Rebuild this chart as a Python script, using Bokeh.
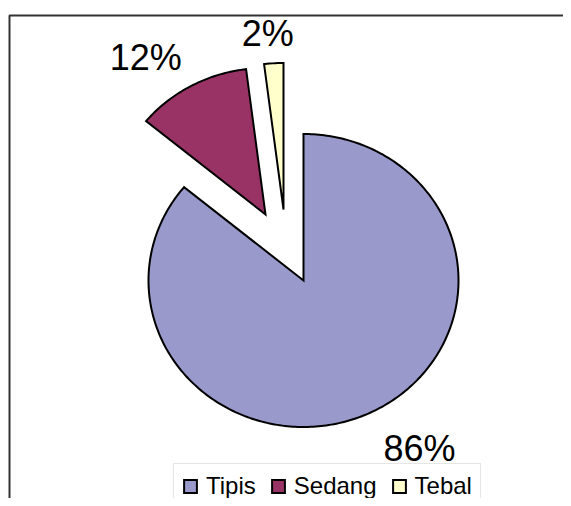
import numpy as np
from bokeh.plotting import figure
from bokeh.models import Range1d, BoxAnnotation, Legend, LegendItem, ColumnDataSource
from bokeh.embed import file_html
from bokeh.resources import INLINE
from bokeh.core.properties import value

# ---- data ----
categories = ["Tipis", "Sedang", "Tebal"]
values = [86, 12, 2]
pct_labels = ["86%", "12%", "2%"]
colors = ["#9999CC", "#993366", "#FFFFCC"]

# ---- layout / style (pixel space of the picture) ----
CX, CY = 303.0, 280.0          # pie centre
RX, RY = 155.0, 146.5          # pie radii (slightly elliptical)
explode = [(0, 0), (-38, -66), (-20, -71)]   # per-slice explosion offsets
label_off = [(50, 35), (-45, -29), (-6, -30)]  # label offset from outer mid point
FONT = "Liberation Sans"

W, H = 563, 498
p = figure(width=W, height=H, x_range=Range1d(0, W), y_range=Range1d(H, 0),
           output_backend="svg", toolbar_location=None, min_border=0,
           x_axis_type=None, y_axis_type=None)
p.grid.visible = False
p.outline_line_color = None
p.background_fill_color = "white"
p.border_fill_color = "white"

total = float(sum(values))
xs, ys, lx, ly = [], [], [], []
cum = 0.0
for i, v in enumerate(values):
    a0 = np.pi / 2 - 2 * np.pi * cum / total
    a1 = np.pi / 2 - 2 * np.pi * (cum + v) / total
    cum += v
    ox, oy = explode[i]
    cx, cy = CX + ox, CY + oy
    t = np.linspace(a0, a1, max(8, int(abs(a1 - a0) * 60)))
    px = np.concatenate([[cx], cx + RX * np.cos(t)])
    py = np.concatenate([[cy], cy - RY * np.sin(t)])
    xs.append(list(px))
    ys.append(list(py))
    tm = (a0 + a1) / 2
    lx.append(cx + RX * np.cos(tm) + label_off[i][0])
    ly.append(cy - RY * np.sin(tm) + label_off[i][1])

# chart-area frame: only its left and top edges fall inside the window
p.add_layout(BoxAnnotation(left=9, top=15, right=W + 40, bottom=H + 40,
                           fill_alpha=0, line_color="#333333", line_alpha=1.0,
                           line_width=2, level="underlay"))

src = ColumnDataSource(dict(xs=xs, ys=ys, color=colors, cat=categories))
r = p.patches("xs", "ys", source=src, fill_color="color", line_color="black",
              line_width=2, line_join="miter")

lsrc = ColumnDataSource(dict(x=lx, y=ly, text=pct_labels))
p.text("x", "y", text="text", source=lsrc, text_align="center", text_baseline="middle",
       text_font=value(FONT), text_font_size="36px", text_color="black")

items = [LegendItem(label=c, renderers=[r], index=i) for i, c in enumerate(categories)]
legend = Legend(items=items, orientation="horizontal", location=(173, -11),
                label_text_font=FONT, label_text_font_size="24px",
                label_text_color="black",
                glyph_width=16, glyph_height=16, label_height=28,
                label_standoff=8, spacing=14, padding=8, margin=0,
                border_line_color="#CCCCCC", border_line_width=1,
                background_fill_color="white", background_fill_alpha=1.0)
p.add_layout(legend, "center")

open("out.html", "w").write(file_html(p, INLINE))
